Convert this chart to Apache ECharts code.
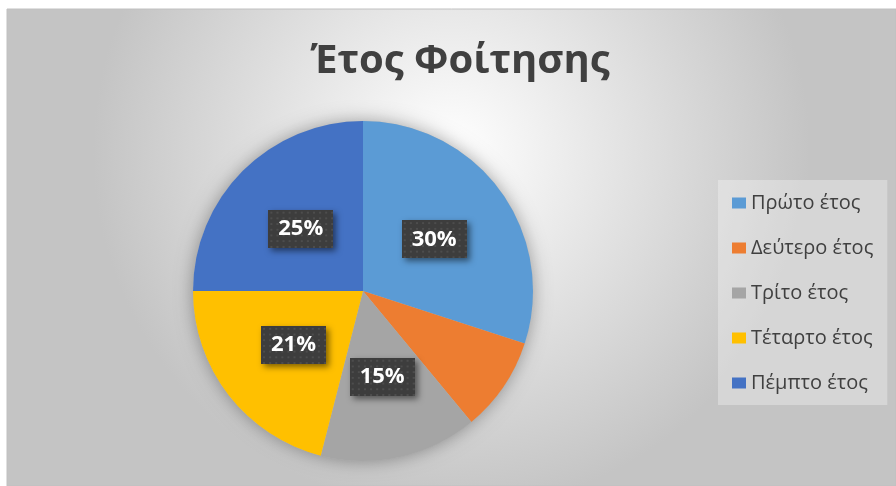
<!DOCTYPE html>
<html>
<head>
<meta charset="utf-8">
<script src="https://cdn.jsdelivr.net/npm/echarts@6/dist/echarts.min.js"></script>
<style>
html,body{margin:0;padding:0;background:#ffffff;}
#chart{width:896px;height:486px;}
</style>
</head>
<body>
<div id="chart"></div>
<script>
const title = 'Έτος Φοίτησης';
const categories = ['Πρώτο έτος', 'Δεύτερο έτος', 'Τρίτο έτος', 'Τέταρτο έτος', 'Πέμπτο έτος'];
const values = [30, 9, 15, 21, 25];
const colors = ['#5B9BD5', '#ED7D31', '#A5A5A5', '#FFC000', '#4472C4'];

const chart = echarts.init(document.getElementById('chart'), null, {renderer: 'canvas'});
const FONT = '"Open Sans", "Noto Sans", sans-serif';

// dotted dark texture for data labels
const pat = document.createElement('canvas');
pat.width = 64; pat.height = 40;
const pc = pat.getContext('2d');
pc.fillStyle = '#3d3d3d';
pc.fillRect(0, 0, 64, 40);
pc.fillStyle = '#4d4d4d';
for (let y = 2; y < 40; y += 6) {
  for (let x = 2; x < 64; x += 6) pc.fillRect(x, y, 2, 2);
}

chart.setOption({
  animation: false,
  color: colors,
  graphic: [{
    type: 'rect',
    z: -10,
    shape: {x: 7, y: 9, width: 889, height: 477},
    style: {
      fill: new echarts.graphic.RadialGradient(0.5, 0.3, 0.75, [
        {offset: 0, color: '#ffffff'},
        {offset: 1, color: '#c4c4c4'}
      ]),
      stroke: '#c0c0c0',
      lineWidth: 1
    }
  }],
  title: {
    text: title,
    left: 455,
    textAlign: 'center',
    top: 37,
    textStyle: {
      fontFamily: FONT,
      fontSize: 40,
      fontWeight: 'bold',
      color: '#404040'
    }
  },
  legend: {
    orient: 'vertical',
    left: 718,
    top: 180,
    padding: [13, 14, 12, 14],
    backgroundColor: 'rgba(255,255,255,0.3)',
    icon: 'rect',
    itemWidth: 14,
    itemHeight: 11,
    itemGap: 25,
    data: categories,
    textStyle: {
      fontFamily: FONT,
      fontSize: 20,
      lineHeight: 20,
      color: '#404040'
    }
  },
  series: [{
    type: 'pie',
    silent: true,
    center: [363, 291],
    radius: 170,
    z: 1,
    label: {show: false},
    labelLine: {show: false},
    itemStyle: {
      color: '#bbbbbb',
      shadowBlur: 18,
      shadowColor: 'rgba(0,0,0,0.35)'
    },
    data: [{value: 1, name: '__shadow'}]
  }, {
    type: 'pie',
    center: [363, 291],
    radius: 170,
    startAngle: 90,
    clockwise: true,
    z: 2,
    itemStyle: {borderWidth: 0},
    label: {
      show: true,
      position: 'inside',
      formatter: '{d}%',
      fontFamily: FONT,
      fontSize: 22,
      fontWeight: 'bold',
      color: '#ffffff',
      backgroundColor: {image: pat},
      padding: [8, 10, 8, 10],
      shadowColor: 'rgba(0,0,0,0.5)',
      shadowBlur: 6,
      shadowOffsetX: 3,
      shadowOffsetY: 3
    },
    labelLine: {show: false},
    emphasis: {disabled: true},
    data: categories.map((c, i) => ({name: c, value: values[i]}))
  }]
});
</script>
</body>
</html>
